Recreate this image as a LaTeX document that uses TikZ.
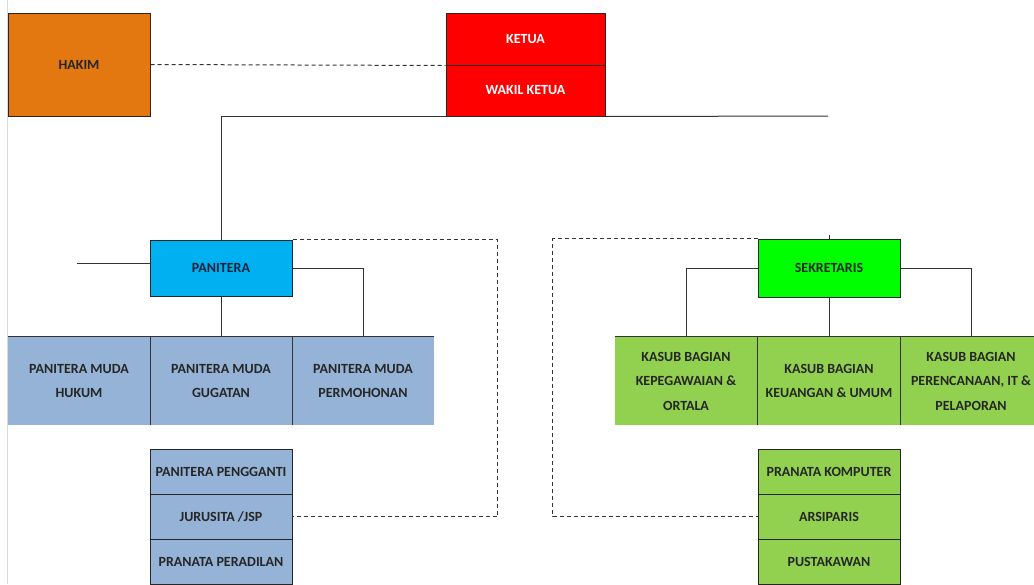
\documentclass[tikz,border=0pt]{standalone}
\usepackage{fontspec}
\setmainfont{Carlito}
\usepackage{tikz}
\usetikzlibrary{calc}
\definecolor{hakimorange}{HTML}{E2780F}
\definecolor{ketuared}{HTML}{FF0000}
\definecolor{paniteracyan}{HTML}{00B0F0}
\definecolor{mudablue}{HTML}{95B3D7}
\definecolor{sekgreen}{HTML}{00FF00}
\definecolor{kasubgreen}{HTML}{92D050}
\definecolor{navytext}{HTML}{14213D}
\tikzstyle{unit} = [rectangle, inner sep=0pt, align=center, minimum width=142pt, font=\bfseries\fontsize{14}{24.5}\selectfont, text=black!85]
\tikzstyle{boxed} = [unit, draw=black!85, line width=1pt]
\tikzstyle{link} = [line width=1pt, draw=black!80]
\tikzstyle{dashlink} = [line width=1pt, draw=black!80, dash pattern=on 4pt off 3pt]

\begin{document}
\begin{tikzpicture}[x=1pt,y=-1pt]

	\useasboundingbox (0,0) rectangle (1034,584);
	\draw[black!15] (7,0) -- (7,584);

	\node[boxed, fill=hakimorange, minimum height=103pt] (hakim) at (79,64.5) {HAKIM};
	\node[boxed, fill=ketuared, text=white, minimum width=159pt, minimum height=52pt] (ketua) at (525.5,39) {KETUA};
	\node[boxed, fill=ketuared, text=white, minimum width=159pt, minimum height=51pt] (wakil) at (525.5,90.5) {WAKIL KETUA};

	\node[boxed, fill=paniteracyan, text=navytext, minimum height=56pt] (panitera) at (221,268) {PANITERA};
	\node[boxed, fill=sekgreen, minimum height=58pt] (sekretaris) at (829,268) {SEKRETARIS};

	% panitera muda
	\node[unit, fill=mudablue, minimum height=88pt] (pmhukum) at (79,381) {PANITERA MUDA\\HUKUM};
	\node[unit, fill=mudablue, minimum height=88pt] (pmgugatan) at (221,381) {PANITERA MUDA\\GUGATAN};
	\node[unit, fill=mudablue, minimum height=88pt] (pmmohon) at (363,381) {PANITERA MUDA\\PERMOHONAN};
	\draw[link] (pmhukum.north west) -- (pmmohon.north east);
	\draw[link] (pmhukum.north east) -- (pmhukum.south east);
	\draw[link] (pmgugatan.north east) -- (pmgugatan.south east);

	\node[boxed, fill=mudablue, minimum height=45pt] (pengganti) at (221,471.5) {PANITERA PENGGANTI};
	\node[boxed, fill=mudablue, minimum height=45pt] (jurusita) at (221,516.5) {JURUSITA /JSP};
	\node[boxed, fill=mudablue, minimum height=45pt] (pranata) at (221,561.5) {PRANATA PERADILAN};

	% kasub bagian
	\node[unit, fill=kasubgreen, minimum height=88pt] (kasubpeg) at (686,381) {KASUB BAGIAN\\KEPEGAWAIAN \&\\ORTALA};
	\node[unit, fill=kasubgreen, minimum height=88pt] (kasubkeu) at (829,381) {KASUB BAGIAN\\KEUANGAN \& UMUM};
	\node[unit, fill=kasubgreen, minimum height=88pt] (kasubren) at (971,381) {KASUB BAGIAN\\PERENCANAAN, IT \&\\PELAPORAN};
	\draw[link] (kasubpeg.north west) -- (kasubren.north east);
	\draw[link] (kasubpeg.north east) -- (kasubpeg.south east);
	\draw[link] (kasubkeu.north east) -- (kasubkeu.south east);

	\node[boxed, fill=kasubgreen, minimum height=45pt] (komputer) at (829,471.5) {PRANATA KOMPUTER};
	\node[boxed, fill=kasubgreen, minimum height=45pt] (arsiparis) at (829,516.5) {ARSIPARIS};
	\node[boxed, fill=kasubgreen, minimum height=45pt] (pustakawan) at (829,561.5) {PUSTAKAWAN};

	\coordinate (ketuaend) at (828,116);
	\coordinate (pleft) at (77,263);

	\draw[dashlink] (hakim.east) -- (ketua.south west);
	\draw[link] (wakil.south west) -| (panitera.north);
	\draw[link] (wakil.south east) -- (ketuaend);
	\draw[link] (sekretaris.north) -- ++(0,-4);

	\draw[link] (pleft) -- (pleft -| panitera.west);
	\draw[link] (panitera.east) -| (pmmohon.north);
	\draw[link] (panitera.south) -- (pmgugatan.north);
	\draw[dashlink] (panitera.north east) -- ++(205,0) |- (jurusita.east);

	\draw[link] (sekretaris.west) -| (kasubpeg.north);
	\draw[link] (sekretaris.east) -| (kasubren.north);
	\draw[link] (sekretaris.south) -- (kasubkeu.north);
	\draw[dashlink] (sekretaris.north west) -- ++(-205,0) |- (arsiparis.west);

\end{tikzpicture}
\end{document}
